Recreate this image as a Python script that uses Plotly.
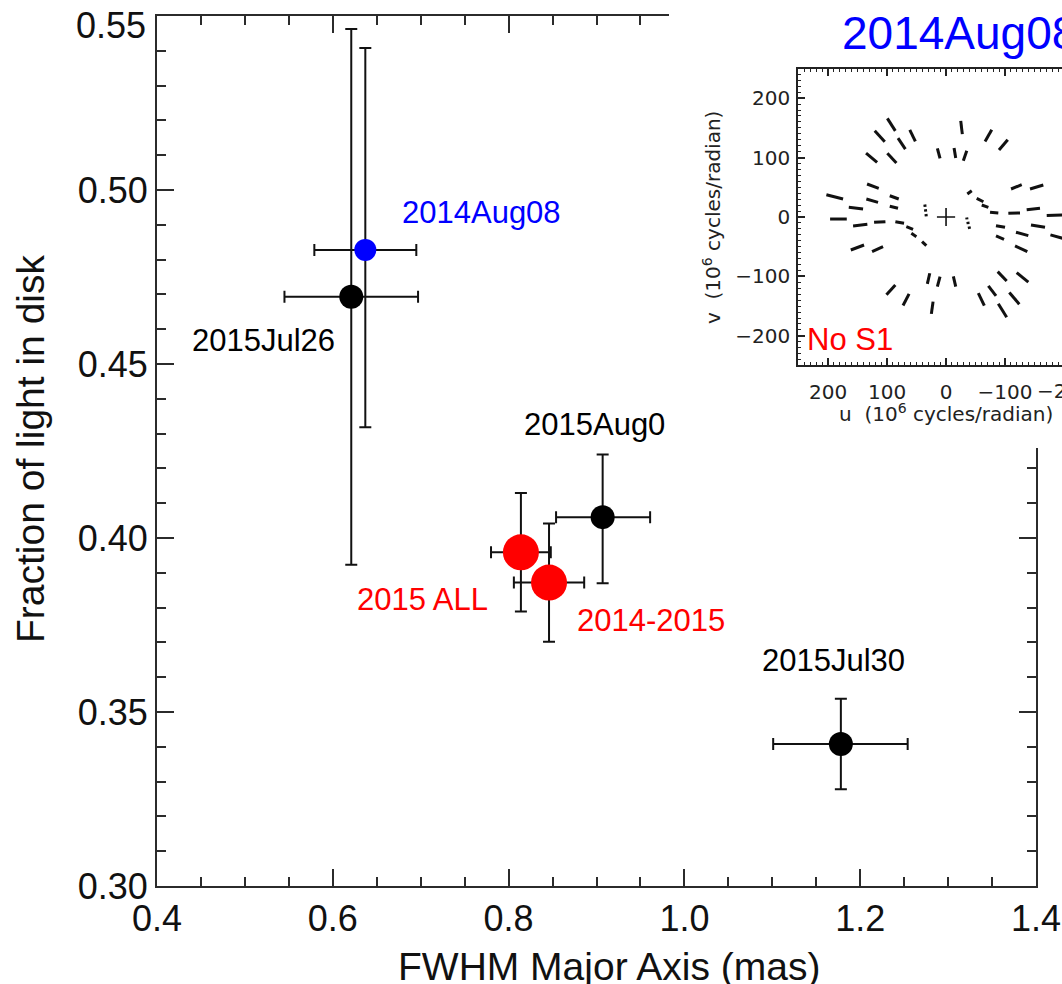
import plotly.graph_objects as go

# ---------------- main chart data ----------------
names = ["2014Aug08", "2015Jul26", "2015Aug0", "2015 ALL", "2014-2015", "2015Jul30"]
fwhm = [0.637, 0.621, 0.907, 0.814, 0.846, 1.178]
frac = [0.4828, 0.4693, 0.4060, 0.3959, 0.3872, 0.3408]
fwhm_err_plus = [0.058, 0.076, 0.054, 0.034, 0.040, 0.076]
fwhm_err_minus = [0.058, 0.076, 0.053, 0.034, 0.040, 0.077]
frac_err_plus = [0.058, 0.077, 0.018, 0.017, 0.017, 0.013]
frac_err_minus = [0.051, 0.077, 0.019, 0.017, 0.017, 0.013]
point_colors = ["#0000ff", "#000000", "#000000", "#ff0000", "#ff0000", "#000000"]
point_sizes = [22, 24, 24, 36, 36, 24]
label_x = [0.6765, 0.4375, 0.8152, 0.6253, 0.8755, 1.086]
label_y = [0.4936, 0.4569, 0.4327, 0.3822, 0.3764, 0.3649]
label_colors = ["#0000ff", "#000000", "#000000", "#ff0000", "#ff0000", "#000000"]
y_tickvals = [0.30, 0.35, 0.40, 0.45, 0.50, 0.55]
y_ticktext = ["0.30", "0.35", "0.40", "0.45", "0.50", ""]

# ---------------- inset uv-coverage data (10^6 cycles/radian) ----------------
seg_u0 = [99.5, 120.9, 61.5, 81.4, 135.6, 99.5, 133.9, 202.9, 135.1, 95.4, 164.9, 95.4, 14.7,
          36, 35, 34,
          -24.9, -13.6, -29.3, -66.1, -89.8, -110.2, -142.4, -36.1, -52.0, -60.5, -74.6, -105.6, -136.7, -170.7,
          196.6, 157.6, 122.0, 85.9, 67.3, 58.8, 40.7, 161.5, 125.4, 101.0, 72.9, 31.7, 24.9, 14.7,
          -84.7, -84.7, -118.6, -144.0, -117.0, -177.0, -12.4, -87.6, -119.8, -71.7, -54.7, -107.3, -88.6,
          -35.0, -37.0, -39.0]
seg_v0 = [165.9, 145.0, 146.7, 132.8, 107.6, 107.1, 55.5, 37.5, 30.3, 35.8, 16.3, 18.0, 115.5,
          21, 13, 5,
          161.8, 116.0, 94.6, 127.2, 112.6, 47.1, 47.1, 38.7, 31.4, 20.2, 7.9, 6.2, 12.3, 2.5,
          -3.4, -15.1, -8.9, -7.9, -16.3, -27.4, -41.5, -55.5, -58.3, -131.0, -149.0, -112.6, -163.0, -117.0,
          -14.6, -31.9, -25.7, -13.4, -48.7, -30.0, -100.0, -91.9, -93.6, -116.0, -128.0, -127.0, -146.0,
          -1.0, -8.0, -16.0]
seg_u1 = [86.0, 103.9, 52.0, 69.0, 116.9, 84.2, 114.1, 174.6, 115.3, 80.2, 140.7, 81.4, 10.2,
          35.5, 34.5, 33.5,
          -27.6, -16.4, -35.1, -77.5, -104.6, -128.3, -164.9, -43.6, -63.3, -71.8, -88.6, -125.4, -159.3, -200.0,
          168.3, 133.4, 102.8, 71.2, 55.9, 50.3, 33.4, 139.0, 106.8, 86.0, 62.7, 27.6, 22.0, 10.2,
          -100.0, -98.3, -139.5, -167.8, -137.8, -200.0, -16.4, -102.8, -139.5, -84.7, -64.9, -124.2, -102.8,
          -35.5, -37.5, -40.0]
seg_v1 = [145.0, 126.6, 127.2, 114.3, 91.9, 90.8, 48.2, 30.3, 24.7, 30.3, 13.4, 14.6, 98.7,
          17, 9, 1,
          139.5, 99.2, 111.4, 146.7, 129.9, 54.3, 53.8, 44.2, 25.7, 16.3, 6.7, 6.7, 14.6, 3.5,
          -3.4, -12.3, -7.9, -10.6, -20.7, -33.1, -48.2, -47.1, -49.9, -114.3, -129.4, -94.6, -142.4, -100.3,
          -17.4, -37.5, -31.4, -17.4, -58.3, -36.5, -117.0, -107.6, -109.7, -132.8, -149.0, -146.7, -168.6,
          -4.0, -12.0, -20.0]

# ---------------- geometry helpers (pixel layout) ----------------
W, H = 1062, 984
ML, MR, MT, MB = 157, 0, 0, 98
PW, PH = W - ML - MR, H - MT - MB


def px(x):
    return (x - ML) / PW


def py(y):
    return (H - MB - y) / PH


AX = "#2b2b2b"
FONT = "Liberation Sans, Arial, sans-serif"
IFONT = "DejaVu Sans, sans-serif"

fig = go.Figure()

# main data (error bars under markers)
fig.add_trace(go.Scatter(
    x=fwhm, y=frac, mode="markers",
    marker=dict(color=point_colors, size=point_sizes, opacity=1, line=dict(width=0)),
    error_x=dict(type="data", symmetric=False, array=fwhm_err_plus, arrayminus=fwhm_err_minus,
                 color="#111111", thickness=2, width=6),
    error_y=dict(type="data", symmetric=False, array=frac_err_plus, arrayminus=frac_err_minus,
                 color="#111111", thickness=2, width=6),
    xaxis="x", yaxis="y", showlegend=False, hoverinfo="skip",
))

# white panel behind inset (covers part of main frame)
fig.add_trace(go.Scatter(
    x=[0, 1, 1, 0, 0], y=[0, 0, 1, 1, 0], mode="lines", fill="toself",
    fillcolor="white", line=dict(width=0, color="white"),
    xaxis="x2", yaxis="y2", showlegend=False, hoverinfo="skip",
))

# inset uv tracks
ux, vy = [], []
for a, b, c, d in zip(seg_u0, seg_v0, seg_u1, seg_v1):
    ux += [a, c, None]
    vy += [b, d, None]
fig.add_trace(go.Scatter(
    x=ux, y=vy, mode="lines", line=dict(color="#111111", width=3),
    xaxis="x3", yaxis="y3", showlegend=False, hoverinfo="skip",
))
fig.add_trace(go.Scatter(
    x=[0], y=[0], mode="markers",
    marker=dict(symbol="cross-thin", size=13, line=dict(width=1.6, color="#111111")),
    xaxis="x3", yaxis="y3", showlegend=False, hoverinfo="skip",
))

main_axis = dict(showgrid=False, zeroline=False, showline=True, linecolor=AX, linewidth=2,
                 mirror="ticks", ticks="inside", ticklen=17, tickwidth=2, tickcolor=AX,
                 automargin=False, ticklabeloverflow="allow",
                 tickfont=dict(family=FONT, size=36, color="#111111"))
inset_axis = dict(showgrid=False, zeroline=False, showline=True, linecolor="#222222", linewidth=1.5,
                  ticks="inside", ticklen=7, tickwidth=1.5, tickcolor="#222222", automargin=False,
                  ticklabeloverflow="allow",
                  tickfont=dict(family=IFONT, size=20, color="#222222"))

fig.update_layout(
    width=W, height=H, autosize=False,
    margin=dict(l=ML, r=MR, t=MT, b=MB, pad=0, autoexpand=False),
    paper_bgcolor="white", plot_bgcolor="white",
    xaxis=dict(main_axis, domain=[0, px(1036)], range=[0.4, 1.4], tick0=0.4, dtick=0.2,
               tickformat=".1f", ticklabelstandoff=0, anchor="y",
               minor=dict(dtick=0.05, ticks="inside", ticklen=9, tickwidth=2, tickcolor=AX)),
    yaxis=dict(main_axis, domain=[0, py(16)], range=[0.30, 0.55001],
               tickmode="array", tickvals=y_tickvals, ticktext=y_ticktext,
               ticklabelstandoff=0, anchor="x",
               minor=dict(tick0=0.30, dtick=0.01, ticks="inside", ticklen=9, tickwidth=2, tickcolor=AX)),
    xaxis2=dict(domain=[px(669), 1], range=[0, 1], visible=False, anchor="y2", fixedrange=True),
    yaxis2=dict(domain=[py(448), 1], range=[0, 1], visible=False, anchor="x2", fixedrange=True),
    xaxis3=dict(inset_axis, domain=[px(798), 1], range=[251, -196.6], tick0=0, dtick=100,
                mirror="ticks", anchor="y3", ticklabelstandoff=8,
                minor=dict(dtick=10, ticks="inside", ticklen=3, tickwidth=1.2, tickcolor="#222222")),
    yaxis3=dict(inset_axis, domain=[py(365), py(69)], range=[-249, 249], tick0=0, dtick=100,
                mirror=False, anchor="x3", ticklabelstandoff=2,
                minor=dict(dtick=10, ticks="inside", ticklen=3, tickwidth=1.2, tickcolor="#222222")),
)

ann = []
for n, lx, ly, lc in zip(names, label_x, label_y, label_colors):
    ann.append(dict(x=lx, y=ly, xref="x", yref="y", text=n, showarrow=False, xanchor="left",
                    yanchor="middle", font=dict(family=FONT, size=31, color=lc)))

# top y tick label (sits slightly lower than its tick in the reference)
ann.append(dict(x=px(148), y=py(25), xref="paper", yref="paper", text="0.55",
                showarrow=False, xanchor="right", yanchor="middle",
                font=dict(family=FONT, size=36, color="#111111")))
# axis titles
ann.append(dict(x=px(609), y=py(966), xref="paper", yref="paper", text="FWHM Major Axis (mas)",
                showarrow=False, xanchor="center", yanchor="middle",
                font=dict(family=FONT, size=39, color="#111111")))
ann.append(dict(x=px(30), y=py(449), xref="paper", yref="paper", text="Fraction of light in disk",
                showarrow=False, xanchor="center", yanchor="middle", textangle=-90,
                font=dict(family=FONT, size=39, color="#111111")))
# inset texts
ann.append(dict(x=px(840), y=py(33), xref="paper", yref="paper", text="2014Aug08",
                showarrow=False, xanchor="left", yanchor="middle",
                font=dict(family=FONT, size=46, color="#0000ff")))
ann.append(dict(x=px(805), y=py(340), xref="paper", yref="paper", text="No S1",
                showarrow=False, xanchor="left", yanchor="middle",
                font=dict(family=FONT, size=31, color="#ff0000")))
ann.append(dict(x=px(946), y=py(413), xref="paper", yref="paper",
                text="u  (10<sup>6</sup> cycles/radian)",
                showarrow=False, xanchor="center", yanchor="middle",
                font=dict(family=IFONT, size=20, color="#222222")))
ann.append(dict(x=px(712), y=py(218), xref="paper", yref="paper",
                text="v  (10<sup>6</sup> cycles/radian)", textangle=-90,
                showarrow=False, xanchor="center", yanchor="middle",
                font=dict(family=IFONT, size=20, color="#222222")))
ann.append(dict(x=px(1064), y=py(391), xref="paper", yref="paper", text="\u2212200",
                showarrow=False, xanchor="center", yanchor="middle",
                font=dict(family=IFONT, size=20, color="#222222")))
fig.update_layout(annotations=ann)

fig.write_html("out.html", config={"displayModeBar": False},
               post_script="document.body.style.margin='0';document.body.style.overflow='hidden';")
